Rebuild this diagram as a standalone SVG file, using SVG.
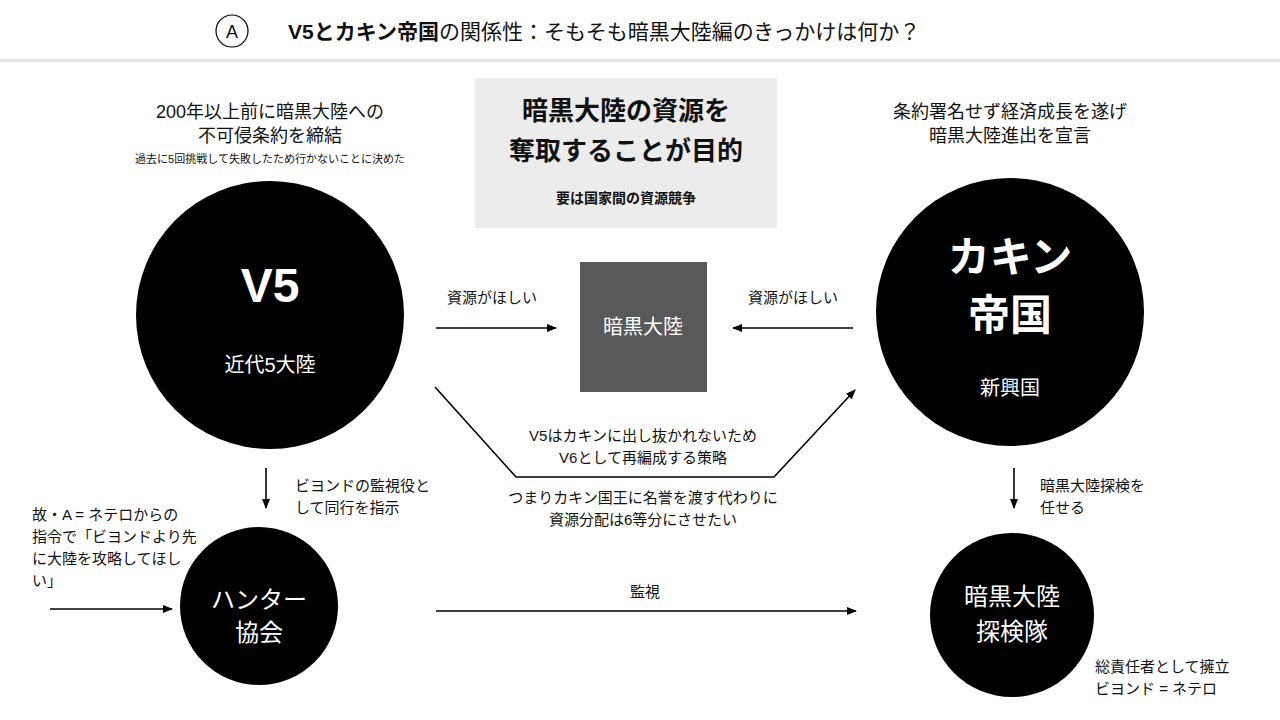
<svg xmlns="http://www.w3.org/2000/svg" width="1280" height="720" viewBox="0 0 1280 720">
<defs>
<marker id="ah" markerWidth="10" markerHeight="8" refX="9" refY="4" orient="auto" markerUnits="userSpaceOnUse"><path d="M0,0 L10,4 L0,8 z" fill="#000"/></marker>
<style>
text{font-family:"Liberation Sans","Noto Sans CJK JP",sans-serif;fill:#111}
.w{fill:#fff}
.c{text-anchor:middle}
.s{font-size:15px}
.m{font-size:18px}
.line{stroke:#000;stroke-width:1.6;fill:none}
</style>
</defs>
<rect width="1280" height="720" fill="#fff"/>
<g id="title">
<circle cx="232" cy="31" r="16" fill="#fff" stroke="#000" stroke-width="1.2"/>
<text x="232" y="38" class="c" font-size="18">A</text>
<text x="288" y="39" font-size="21"><tspan font-weight="bold">V5とカキン帝国</tspan>の関係性：そもそも暗黒大陸編のきっかけは何か？</text>
<rect x="0" y="59" width="1280" height="3" fill="#e4e4e4"/>
</g>
<g id="goal">
<rect x="475" y="78" width="302" height="150" fill="#ececec"/>
<text x="626" y="120" class="c" font-size="26" font-weight="bold">暗黒大陸の資源を</text>
<text x="626" y="160" class="c" font-size="26" font-weight="bold">奪取することが目的</text>
<text x="626" y="203" class="c" font-size="14" font-weight="bold">要は国家間の資源競争</text>
</g>
<g id="v5">
<circle cx="270" cy="315" r="134" fill="#000"/>
<text x="270" y="302" class="c w" font-size="48" font-weight="bold">V5</text>
<text x="270" y="372" class="c w" font-size="20">近代5大陸</text>
<text x="270" y="118" class="c m">200年以上前に暗黒大陸への</text>
<text x="270" y="142" class="c m">不可侵条約を締結</text>
<text x="270" y="163" class="c" font-size="11">過去に5回挑戦して失敗したため行かないことに決めた</text>
</g>
<g id="kakin">
<circle cx="1010" cy="312" r="134" fill="#000"/>
<text x="1010" y="272" class="c w" font-size="42" font-weight="bold">カキン</text>
<text x="1010" y="330" class="c w" font-size="42" font-weight="bold">帝国</text>
<text x="1010" y="395" class="c w" font-size="20">新興国</text>
<text x="1010" y="118" class="c m">条約署名せず経済成長を遂げ</text>
<text x="1010" y="142" class="c m">暗黒大陸進出を宣言</text>
</g>
<g id="dark">
<rect x="580" y="262" width="127" height="130" fill="#595959"/>
<text x="643" y="334" class="c w" font-size="20">暗黒大陸</text>
</g>
<g id="hunter">
<circle cx="259" cy="606" r="79" fill="#000"/>
<text x="259" y="608" class="c w" font-size="24">ハンター</text>
<text x="259" y="641" class="c w" font-size="24">協会</text>
</g>
<g id="expedition">
<circle cx="1012" cy="615" r="82" fill="#000"/>
<text x="1012" y="605" class="c w" font-size="24">暗黒大陸</text>
<text x="1012" y="640" class="c w" font-size="24">探検隊</text>
<text x="1095" y="672" class="s">総責任者として擁立</text>
<text x="1095" y="694" class="s">ビヨンド = ネテロ</text>
</g>
<g id="connectors">
<line class="line" x1="436" y1="328" x2="556" y2="328" marker-end="url(#ah)"/>
<text x="492" y="303" class="c s">資源がほしい</text>
<line class="line" x1="853" y1="328" x2="733" y2="328" marker-end="url(#ah)"/>
<text x="793" y="303" class="c s">資源がほしい</text>
<polyline class="line" points="435,387 516,477 774,477 855,390" marker-end="url(#ah)"/>
<text x="643" y="441" class="c s">V5はカキンに出し抜かれないため</text>
<text x="643" y="463" class="c s">V6として再編成する策略</text>
<text x="643" y="503" class="c s">つまりカキン国王に名誉を渡す代わりに</text>
<text x="643" y="525" class="c s">資源分配は6等分にさせたい</text>
<line class="line" x1="266" y1="468" x2="266" y2="508" marker-end="url(#ah)"/>
<text x="295" y="491" class="s">ビヨンドの監視役と</text>
<text x="295" y="513" class="s">して同行を指示</text>
<line class="line" x1="1014" y1="468" x2="1014" y2="508" marker-end="url(#ah)"/>
<text x="1040" y="491" class="s">暗黒大陸探検を</text>
<text x="1040" y="513" class="s">任せる</text>
<line class="line" x1="50" y1="609" x2="172" y2="609" marker-end="url(#ah)"/>
<text x="32" y="520" class="s">故・A = ネテロからの</text>
<text x="32" y="542" class="s">指令で「ビヨンドより先</text>
<text x="32" y="564" class="s">に大陸を攻略してほし</text>
<text x="32" y="586" class="s">い」</text>
<line class="line" x1="436" y1="611" x2="856" y2="611" marker-end="url(#ah)"/>
<text x="645" y="597" class="c s">監視</text>
</g>
</svg>
